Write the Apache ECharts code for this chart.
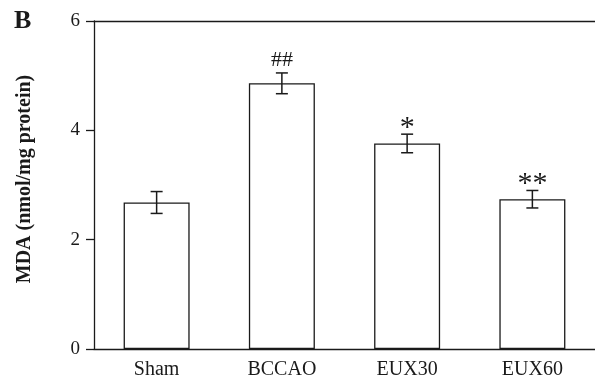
<!DOCTYPE html>
<html>
<head>
<meta charset="utf-8">
<script src="https://cdn.jsdelivr.net/npm/echarts@6/dist/echarts.min.js"></script>
<style>html,body{margin:0;padding:0;background:#fff;}#c{width:595px;height:381px;}</style>
</head>
<body>
<div id="c"></div>
<script>
var categories = ["Sham", "BCCAO", "EUX30", "EUX60"];
var meanValues = [2.68, 4.86, 3.76, 2.74];
var errValues = [0.20, 0.19, 0.17, 0.16];
var sigLabels = ["", "##", "*", "**"];
var yTicks = [0, 2, 4, 6];

var FONT = "'Liberation Serif','Times New Roman',serif";
var INK = '#1a1a1a';

var chart = echarts.init(document.getElementById('c'), null, {renderer: 'canvas'});
var option = {
  backgroundColor: '#fff',
  animation: false,
  grid: {left: 94, top: 21, width: 504, height: 328, containLabel: false},
  xAxis: [{
    type: 'category',
    data: categories,
    axisLine: {show: true, lineStyle: {color: INK, width: 1.3}},
    axisTick: {show: false},
    axisLabel: {fontFamily: FONT, fontSize: 20, color: INK, margin: 11}
  }, {
    type: 'category',
    position: 'top',
    data: categories,
    axisLine: {show: true, lineStyle: {color: INK, width: 1.3}},
    axisTick: {show: false},
    axisLabel: {show: false}
  }],
  yAxis: {
    type: 'value',
    min: yTicks[0],
    max: yTicks[yTicks.length - 1],
    interval: 2,
    axisLine: {show: true, lineStyle: {color: INK, width: 1.3}},
    axisTick: {show: true, inside: false, length: 8, lineStyle: {color: INK, width: 1.3}},
    axisLabel: {fontFamily: FONT, fontSize: 19, color: INK, margin: 14},
    splitLine: {show: false}
  },
  graphic: [{
    type: 'text',
    x: 25, y: 179,
    rotation: Math.PI / 2,
    style: {text: 'MDA (nmol/mg protein)', font: 'bold 20px ' + FONT, fill: INK, align: 'center', verticalAlign: 'middle'}
  }, {
    type: 'text',
    left: 14, top: 8,
    style: {text: 'B', font: 'bold 26px ' + FONT, fill: INK}
  }],
  series: [{
    type: 'bar',
    data: meanValues,
    barWidth: 66,
    itemStyle: {color: '#fff', borderColor: INK, borderWidth: 1.3},
    silent: true
  }, {
    type: 'custom',
    data: meanValues.map(function (v, i) { return [i, v, errValues[i]]; }),
    renderItem: function (params, api) {
      var i = api.value(0), v = api.value(1), e = api.value(2);
      var top = api.coord([i, v + e]);
      var bot = api.coord([i, v - e]);
      var hw = 6;
      var st = {stroke: INK, lineWidth: 1.5};
      var children = [
        {type: 'line', shape: {x1: top[0], y1: top[1], x2: bot[0], y2: bot[1]}, style: st},
        {type: 'line', shape: {x1: top[0] - hw, y1: top[1], x2: top[0] + hw, y2: top[1]}, style: st},
        {type: 'line', shape: {x1: bot[0] - hw, y1: bot[1], x2: bot[0] + hw, y2: bot[1]}, style: st}
      ];
      var lab = sigLabels[params.dataIndex];
      if (lab) {
        var isStar = lab.indexOf('*') >= 0;
        children.push({
          type: 'text',
          x: top[0],
          y: top[1] + (isStar ? 9 : -2),
          style: {text: lab, font: (isStar ? '30px ' : '22px ') + FONT, fill: INK, align: 'center', verticalAlign: 'bottom'}
        });
      }
      return {type: 'group', children: children};
    },
    z: 5
  }]
};
chart.setOption(option);
</script>
</body>
</html>
